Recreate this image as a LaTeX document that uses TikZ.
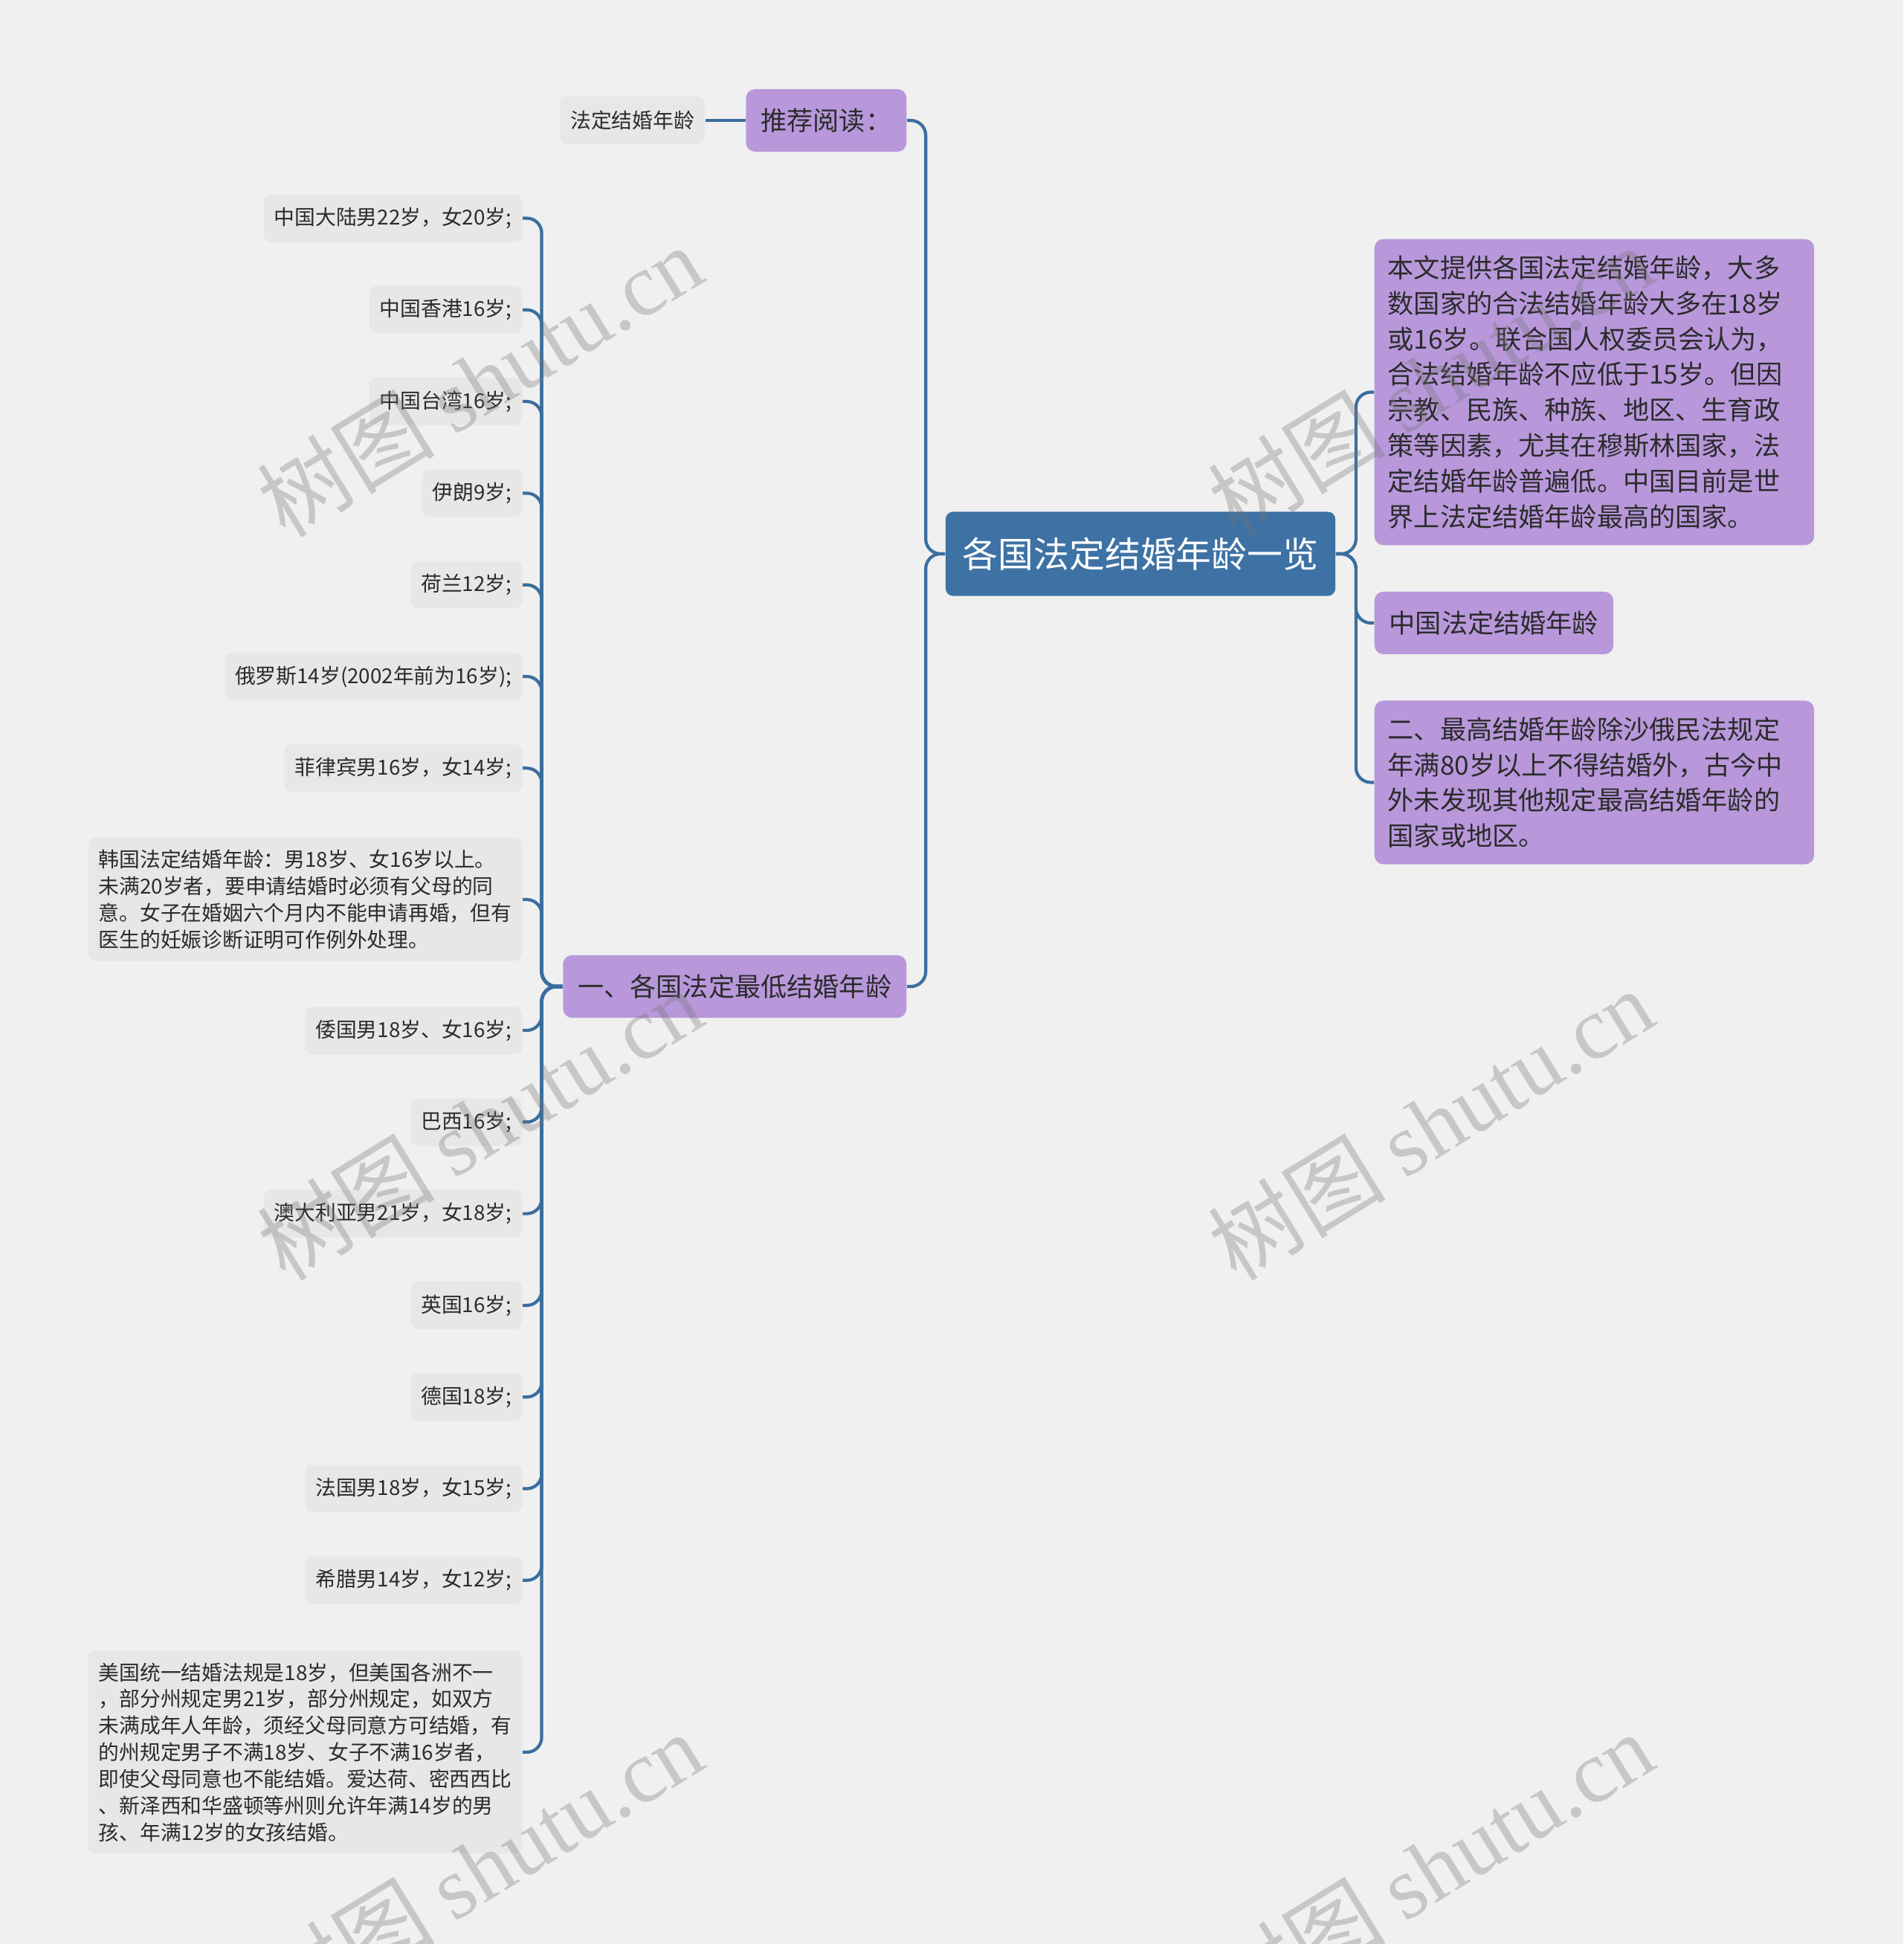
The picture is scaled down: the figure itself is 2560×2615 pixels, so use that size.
\documentclass[tikz,border=0pt]{standalone}
\usepackage{fontspec}
\setmainfont{Noto Sans CJK SC}
\newfontfamily\wmserif{Liberation Serif}
\usepackage{xcolor}
\usepackage{tikz}
\usetikzlibrary{positioning}

\definecolor{bgcol}{HTML}{F0F0F0}
\definecolor{rootblue}{HTML}{3E72A4}
\definecolor{linkblue}{HTML}{3B6E9E}
\definecolor{secpurple}{HTML}{B898DB}
\definecolor{leafgray}{HTML}{E7E7E7}
\definecolor{txtdark}{HTML}{2B2B2B}

\tikzset{
  rootbox/.style={fill=rootblue, text=white, rounded corners=0.1cm,
    font=\fontsize{13.6pt}{16pt}\selectfont, inner xsep=0.23cm, inner ysep=0cm,
    minimum height=1.13cm},
  secbox/.style={fill=secpurple, text=txtdark, rounded corners=0.12cm,
    font=\fontsize{10pt}{13.6pt}\selectfont, inner xsep=0.2cm, inner ysep=0cm,
    minimum height=0.84cm},
  notebox/.style={secbox, align=left, text width=5.55cm, inner xsep=0.18cm,
    inner ysep=0.22cm},
  leaf/.style={fill=leafgray, text=txtdark, rounded corners=0.1cm,
    font=\fontsize{7.9pt}{10.2pt}\selectfont, align=left, inner xsep=0.14cm,
    inner ysep=0.16cm, minimum height=0.64cm},
  link/.style={draw=linkblue, line width=1.2pt, rounded corners=0.2cm},
  wmark/.style={rotate=31.6, text=black!55, text opacity=0.32,
    font=\fontsize{34pt}{34pt}\selectfont}
}

\begin{document}
\begin{tikzpicture}[x=0.01cm, y=-0.01cm]
  \fill[bgcol] (0,0) rectangle (2560,2615);
  \useasboundingbox (0,0) rectangle (2560,2615);

  % centre
  \node[rootbox] (root) at (1534,745) {各国法定结婚年龄一览};

  % left side
  \node[secbox, anchor=east] (recmd) at (1220,162) {推荐阅读：};
  \node[leaf, left=0.54cm of recmd] (recitem) {法定结婚年龄};
  \node[secbox, anchor=east] (low) at (1220,1327) {一、各国法定最低结婚年龄};

  \foreach \i/\txt in {0/中国大陆男22岁，女20岁;, 1/中国香港16岁;, 2/中国台湾16岁;,
      3/伊朗9岁;, 4/荷兰12岁;, 5/俄罗斯14岁(2002年前为16岁);, 6/菲律宾男16岁，女14岁;} {
    \node[leaf, anchor=east] (a\i) at (703,293.5+123.3*\i) {\txt};
  }
  \node[leaf, anchor=east] (kr) at (703,1210) {韩国法定结婚年龄：男18岁、女16岁以上。\\
    未满20岁者，要申请结婚时必须有父母的同\\
    意。女子在婚姻六个月内不能申请再婚，但有\\
    医生的妊娠诊断证明可作例外处理。};
  \foreach \i/\txt in {0/倭国男18岁、女16岁;, 1/巴西16岁;, 2/澳大利亚男21岁，女18岁;,
      3/英国16岁;, 4/德国18岁;, 5/法国男18岁，女15岁;, 6/希腊男14岁，女12岁;} {
    \node[leaf, anchor=east] (b\i) at (703,1386+123.3*\i) {\txt};
  }
  \node[leaf, anchor=east] (us) at (703,2357) {美国统一结婚法规是18岁，但美国各洲不一\\
    ，部分州规定男21岁，部分州规定，如双方\\
    未满成年人年龄，须经父母同意方可结婚，有\\
    的州规定男子不满18岁、女子不满16岁者，\\
    即使父母同意也不能结婚。爱达荷、密西西比\\
    、新泽西和华盛顿等州则允许年满14岁的男\\
    孩、年满12岁的女孩结婚。};

  % right side
  \node[notebox, anchor=west] (intro) at (1848,527.5) {本文提供各国法定结婚年龄，大多\\
    数国家的合法结婚年龄大多在18岁\\
    或16岁。联合国人权委员会认为，\\
    合法结婚年龄不应低于15岁。但因\\
    宗教、民族、种族、地区、生育政\\
    策等因素，尤其在穆斯林国家，法\\
    定结婚年龄普遍低。中国目前是世\\
    界上法定结婚年龄最高的国家。};
  \node[secbox, anchor=west] (china) at (1848,838) {中国法定结婚年龄};
  \node[notebox, anchor=west] (high) at (1848,1052.5) {二、最高结婚年龄除沙俄民法规定\\
    年满80岁以上不得结婚外，古今中\\
    外未发现其他规定最高结婚年龄的\\
    国家或地区。};

  % connectors
  \foreach \n in {recmd,low}
    \draw[link] (root.west) -- ++(-26,0) |- (\n.east);
  \foreach \n in {intro,china,high}
    \draw[link] (root.east) -- ++(27,0) |- (\n.west);
  \draw[link] (recmd.west) -- (recitem.east);
  \foreach \n in {a0,a1,a2,a3,a4,a5,a6,kr,b0,b1,b2,b3,b4,b5,b6,us}
    \draw[link] (low.west) -- ++(-28,0) |- (\n.east);

  % watermarks
  \node[wmark] (wm1) at (645,512) {树图 {\wmserif shutu.cn}};
  \node[wmark] (wm2) at (1924,512) {树图 {\wmserif shutu.cn}};
  \node[wmark] (wm3) at (645,1512) {树图 {\wmserif shutu.cn}};
  \node[wmark] (wm4) at (1924,1512) {树图 {\wmserif shutu.cn}};
  \node[wmark] (wm5) at (645,2512) {树图 {\wmserif shutu.cn}};
  \node[wmark] (wm6) at (1924,2512) {树图 {\wmserif shutu.cn}};
\end{tikzpicture}
\end{document}
